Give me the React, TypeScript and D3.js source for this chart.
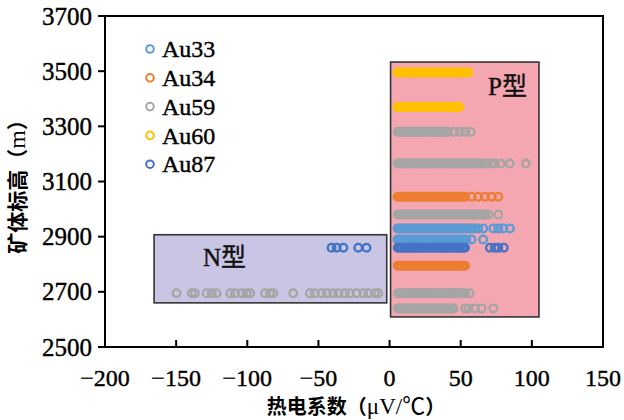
import React from 'react';
import * as d3 from 'd3';

const width = 624;
const height = 420;
const margin = { top: 16, right: 21, bottom: 73, left: 105 };

const xTicks = [-200, -150, -100, -50, 0, 50, 100, 150];
const yTicks = [2500, 2700, 2900, 3100, 3300, 3500, 3700];

const seriesNames = ['Au33', 'Au34', 'Au59', 'Au60', 'Au87'];
const seriesColors = ['#5B9BD5', '#ED7D31', '#A5A5A5', '#FFC000', '#4472C4'];

// thermoelectric coefficient readings, one array per sampled elevation
const au33At2930 = [5.7, 7.2, 8.6, 10.2, 11.7, 13.1, 14.7, 16.2, 17.6, 19.1, 20.7, 22.2, 23.6, 25.1, 26.7, 28.2, 29.6, 31.1, 32.7, 34.2, 35.6, 37.1, 38.7, 40.2, 41.6, 43.1, 44.7, 46.2, 47.6, 49.1, 50.7, 52.2, 53.6, 55.1, 56.7, 58.2, 60.0, 62.3, 65.8, 72.9, 76.4, 79.9, 84.6];
const au33At2890 = [5.6, 7.0, 8.5, 10.0, 11.5, 13.0, 14.5, 16.0, 17.5, 19.0, 20.5, 22.0, 23.5, 25.0, 26.5, 28.0, 29.5, 31.0, 32.5, 34.0, 35.5, 37.0, 38.5, 40.0, 41.5, 43.0, 44.5, 46.0, 47.5, 49.0, 50.5, 52.0, 54.0, 57.6, 65.8];
const au34At3045 = [5.6, 7.1, 8.5, 10.1, 11.6, 13.0, 14.6, 16.1, 17.5, 19.0, 20.6, 22.1, 23.5, 25.0, 26.6, 28.1, 29.5, 31.0, 32.6, 34.1, 35.5, 37.0, 38.6, 40.1, 41.5, 43.0, 44.6, 46.1, 47.5, 49.0, 50.6, 52.1, 53.0, 57.6, 62.3, 67.0, 71.7, 76.4];
const au34At2795 = [5.8, 7.3, 8.7, 10.3, 11.8, 13.2, 14.8, 16.3, 17.7, 19.2, 20.8, 22.3, 23.7, 25.2, 26.8, 28.3, 29.7, 31.2, 32.8, 34.3, 35.7, 37.2, 38.8, 40.3, 41.7, 43.2, 44.8, 46.3, 47.7, 49.2, 50.8, 52.0, 53.0];
const au59At3280 = [5.7, 7.1, 8.6, 10.1, 11.6, 13.1, 14.6, 16.1, 17.6, 19.1, 20.6, 22.1, 23.6, 25.1, 26.6, 28.1, 29.6, 31.1, 32.6, 34.1, 35.6, 37.1, 38.6, 40.0, 41.0, 45.5, 49.4, 53.0, 57.0];
const au59At3165 = [5.6, 7.1, 8.5, 10.1, 11.6, 13.0, 14.6, 16.1, 17.5, 19.0, 20.6, 22.1, 23.5, 25.0, 26.6, 28.1, 29.5, 31.0, 32.6, 34.1, 35.5, 37.0, 38.6, 40.1, 41.5, 43.0, 44.6, 46.1, 47.5, 49.0, 50.6, 52.1, 53.5, 55.0, 56.6, 58.1, 59.5, 61.0, 62.6, 63.8, 64.7, 68.0, 71.7, 74.0, 78.0, 84.5, 95.8];
const au59At2980 = [5.8, 7.2, 8.7, 10.2, 11.7, 13.2, 14.7, 16.2, 17.7, 19.2, 20.7, 22.2, 23.7, 25.2, 26.7, 28.2, 29.7, 31.2, 32.7, 34.2, 35.7, 37.2, 38.7, 40.2, 41.7, 43.2, 44.7, 46.2, 47.7, 49.2, 50.7, 52.2, 53.7, 55.2, 56.7, 58.2, 59.7, 61.2, 62.7, 64.2, 65.6, 67.0, 69.4, 76.4];
const au59At2695 = [-149.7, -139.0, -136.8, -128.6, -125.0, -121.6, -112.0, -108.7, -104.0, -100.5, -98.0, -87.6, -84.0, -81.7, -67.7, -56.0, -52.5, -47.8, -44.0, -39.6, -36.0, -31.4, -27.9, -23.2, -18.5, -15.0, -10.3, -8.0,
  5.9, 7.4, 8.8, 10.4, 11.9, 13.3, 14.9, 16.4, 17.8, 19.3, 20.9, 22.4, 23.8, 25.3, 26.9, 28.4, 29.8, 31.3, 32.9, 34.4, 35.8, 37.3, 38.9, 40.4, 41.8, 43.3, 44.9, 46.4, 47.8, 49.2, 50.3, 53.0, 56.4];
const au59At2640 = [5.7, 7.2, 8.6, 10.2, 11.7, 13.1, 14.7, 16.2, 17.6, 19.1, 20.7, 22.2, 23.6, 25.1, 26.7, 28.2, 29.6, 31.1, 32.7, 34.2, 35.6, 37.1, 38.7, 40.2, 41.6, 43.1, 44.8, 53.0, 55.3, 60.0, 64.7, 72.9];
const au60At3495 = [5.6, 7.0, 8.5, 10.0, 11.6, 13.1, 14.5, 16.0, 17.6, 19.1, 20.5, 22.0, 23.6, 25.1, 26.5, 28.0, 29.6, 31.1, 32.5, 34.0, 35.6, 37.1, 38.5, 40.0, 41.6, 43.1, 44.5, 46.0, 47.6, 49.1, 50.5, 52.0, 53.6, 55.5];
const au60At3370 = [5.6, 7.1, 8.6, 10.1, 11.5, 13.0, 14.5, 16.1, 17.6, 19.0, 20.5, 22.1, 23.6, 25.0, 26.5, 28.1, 29.6, 30.7, 32.1, 33.6, 35.0, 36.5, 38.1, 39.6, 41.0, 42.5, 44.1, 45.6, 47.2, 49.0];
const au87At2860 = [-40.8, -37.2, -32.5, -22.0, -16.2,
  5.8, 7.3, 8.7, 10.3, 11.8, 13.2, 14.8, 16.3, 17.7, 19.2, 20.8, 22.3, 23.7, 25.2, 26.8, 28.3, 29.7, 31.2, 32.8, 34.3, 35.7, 37.2, 38.8, 40.3, 41.7, 43.2, 44.8, 46.3, 47.7, 49.2, 50.8, 52.0, 53.0, 70.5, 74.0, 76.4, 80.3];

const au33Rows: [number, number[]][] = [[2930, au33At2930], [2890, au33At2890]];
const au34Rows: [number, number[]][] = [[3045, au34At3045], [2795, au34At2795]];
const au59Rows: [number, number[]][] = [[3280, au59At3280], [3165, au59At3165], [2980, au59At2980], [2695, au59At2695], [2640, au59At2640]];
const au60Rows: [number, number[]][] = [[3495, au60At3495], [3370, au60At3370]];
const au87Rows: [number, number[]][] = [[2860, au87At2860]];
const seriesRows = [au33Rows, au34Rows, au59Rows, au60Rows, au87Rows];

// shaded N / P fields, in data units
const nBox = { x0: -165.5, x1: -2, y0: 2660, y1: 2907 };
const pBox = { x0: 0.7, x1: 105, y0: 2609, y1: 3533 };

const serif = '"Liberation Serif", "Times New Roman", "Noto Sans CJK SC", serif';
const cjk = '"Noto Sans CJK SC", "Liberation Serif", sans-serif';

export default function App() {
  const xScale = d3.scaleLinear().domain([-200, 150]).range([margin.left, width - margin.right]);
  const yScale = d3.scaleLinear().domain([2500, 3700]).range([height - margin.bottom, margin.top]);
  const fmt = d3.format('');

  const x0 = xScale(-200);
  const x1 = xScale(150);
  const y0 = yScale(2500);
  const y1 = yScale(3700);

  return (
    <svg width={width} height={height} style={{ position: 'absolute', left: 0, top: 0, background: '#fff' }}>
      <rect
        x={xScale(pBox.x0)}
        y={yScale(pBox.y1)}
        width={xScale(pBox.x1) - xScale(pBox.x0)}
        height={yScale(pBox.y0) - yScale(pBox.y1)}
        fill="#F5A7B1"
        stroke="#333"
        strokeWidth={1.6}
      />
      <rect
        x={xScale(nBox.x0)}
        y={yScale(nBox.y1)}
        width={xScale(nBox.x1) - xScale(nBox.x0)}
        height={yScale(nBox.y0) - yScale(nBox.y1)}
        fill="#C9C5E4"
        stroke="#333"
        strokeWidth={1.6}
      />
      <text x={488} y={95} fontFamily={serif} fontSize={25} fill="#111" stroke="#111" strokeWidth={0.4}>P型</text>
      <text x={203} y={266} fontFamily={serif} fontSize={25} fill="#111" stroke="#111" strokeWidth={0.4}>N型</text>

      {seriesRows.map((rows, si) => (
        <g key={seriesNames[si]}>
          {rows.map(([depth, xs]) =>
            xs.map((v, i) => (
              <circle
                key={depth + '-' + i}
                cx={xScale(v)}
                cy={yScale(depth)}
                r={3.8}
                fill="none"
                stroke={seriesColors[si]}
                strokeWidth={2.4}
              />
            ))
          )}
        </g>
      ))}

      {/* frame */}
      <rect x={x0} y={y1} width={x1 - x0} height={y0 - y1} fill="none" stroke="#000" strokeWidth={2} />

      {yTicks.map(t => (
        <g key={t}>
          <line x1={x0 - 7} x2={x0} y1={yScale(t)} y2={yScale(t)} stroke="#000" strokeWidth={2} />
          <text x={x0 - 13} y={yScale(t)} dy="0.34em" textAnchor="end" fontFamily={serif} fontSize={25}
            fill="#000" stroke="#000" strokeWidth={0.4}>
            {fmt(t)}
          </text>
        </g>
      ))}
      {xTicks.map(t => (
        <g key={t}>
          {t > -200 && t < 150 && (
            <line x1={xScale(t)} x2={xScale(t)} y1={y0} y2={y0 - 7} stroke="#000" strokeWidth={2} />
          )}
          <text x={xScale(t)} y={386} textAnchor="middle" fontFamily={serif} fontSize={24}
            fill="#000" stroke="#000" strokeWidth={0.4}>
            {fmt(t)}
          </text>
        </g>
      ))}

      <text x={356} y={414} textAnchor="middle" fontFamily={cjk} fontWeight="bold" fontSize={20} fill="#000">
        热电系数（<tspan fontFamily={serif} fontWeight="normal" fontSize={23}>μV/℃</tspan>）
      </text>
      <text
        transform={`translate(25, ${(y0 + y1) / 2}) rotate(-90)`}
        textAnchor="middle"
        fontFamily={cjk}
        fontWeight="bold"
        fontSize={21}
        fill="#000"
      >
        矿体标高（<tspan fontFamily={serif} fontWeight="normal" fontSize={24}>m</tspan>）
      </text>

      {seriesNames.map((name, i) => (
        <g key={name} transform={`translate(150, ${49 + i * 28.8})`}>
          <circle r={3.8} fill="none" stroke={seriesColors[i]} strokeWidth={2} />
          <text x={12} dy="0.34em" fontFamily={serif} fontSize={24} fill="#000" stroke="#000" strokeWidth={0.4}>{name}</text>
        </g>
      ))}
    </svg>
  );
}
